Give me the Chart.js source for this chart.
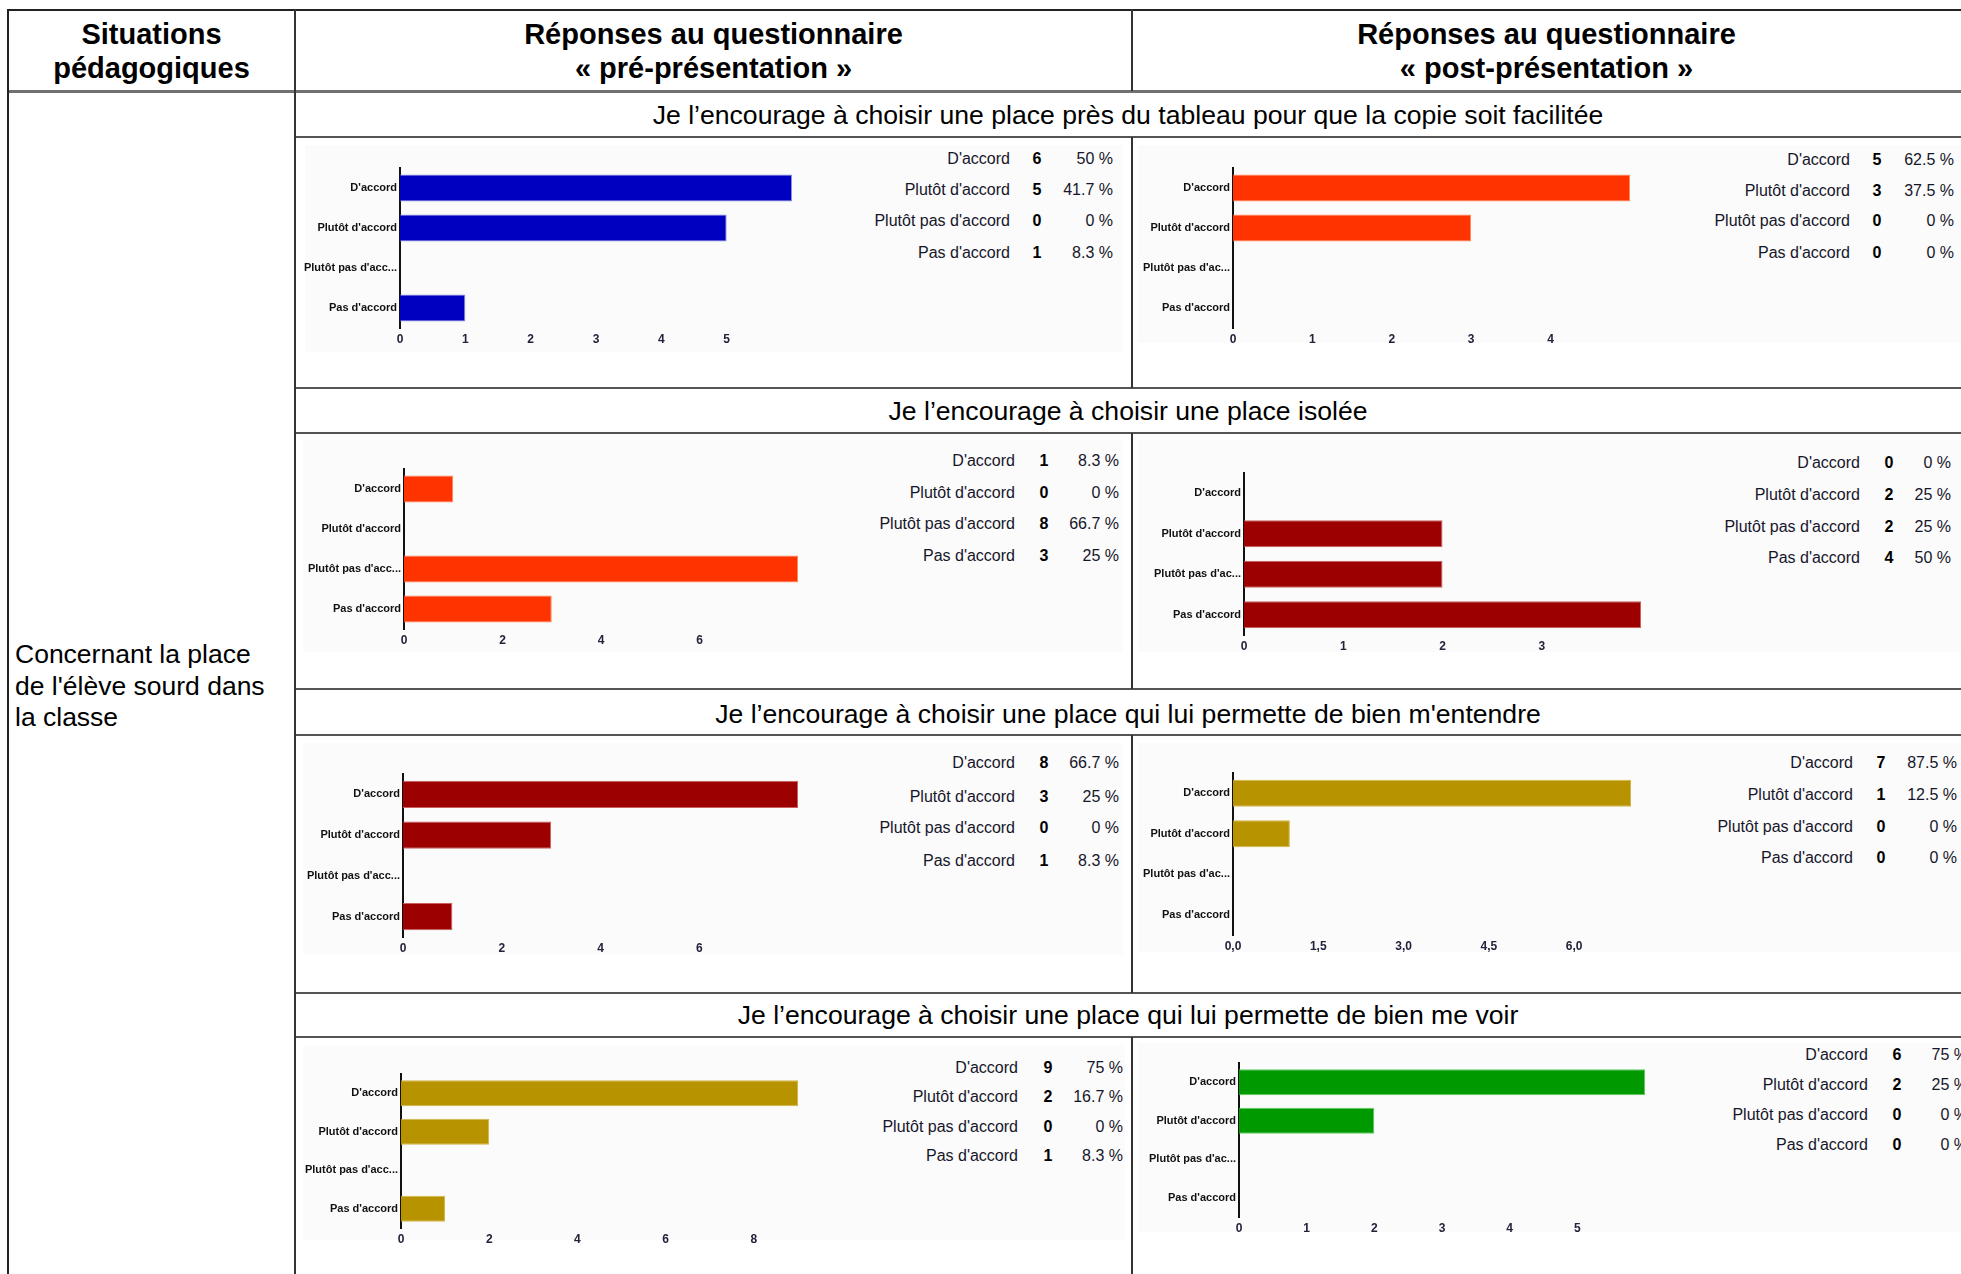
<!DOCTYPE html>
<html><head><meta charset="utf-8">
<script src="https://cdn.jsdelivr.net/npm/chart.js@4"></script>
<style>
html,body{margin:0;padding:0}
body{width:1961px;height:1274px;overflow:hidden;background:#fff;position:relative;font-family:"Liberation Sans",Arial,sans-serif;color:#000}
.a{position:absolute;white-space:nowrap}
.ln{position:absolute}
.hd{font-size:29px;font-weight:bold;line-height:34px;text-align:center}
.ttl{font-size:26.6px;line-height:30px;text-align:center}
.lg{font-size:16px;line-height:20px;color:#16162a}
.cnt{font-weight:bold;color:#000}
</style></head><body>
<script>
// ---------- DATA ----------
const categories = ["D'accord", "Plutôt d'accord", "Plutôt pas d'accord", "Pas d'accord"];
const axisLabelsPre = ["D'accord", "Plutôt d'accord", "Plutôt pas d'acc...", "Pas d'accord"];
const axisLabelsPost = ["D'accord", "Plutôt d'accord", "Plutôt pas d'ac...", "Pas d'accord"];
const questions = [
  "Je l’encourage à choisir une place près du tableau pour que la copie soit facilitée",
  "Je l’encourage à choisir une place isolée",
  "Je l’encourage à choisir une place qui lui permette de bien m'entendre",
  "Je l’encourage à choisir une place qui lui permette de bien me voir"
];
const situation = ["Concernant la place", "de l'élève sourd dans", "la classe"];
const headerSituations = ["Situations", "pédagogiques"];
const headerPre = ["Réponses au questionnaire", "« pré-présentation »"];
const headerPost = ["Réponses au questionnaire", "« post-présentation »"];

const pre1 = [6, 5, 0, 1];
const post1 = [5, 3, 0, 0];
const pre2 = [1, 0, 8, 3];
const post2 = [0, 2, 2, 4];
const pre3 = [8, 3, 0, 1];
const post3 = [7, 1, 0, 0];
const pre4 = [9, 2, 0, 1];
const post4 = [6, 2, 0, 0];

const ticksPre1 = ["0", "1", "2", "3", "4", "5"];
const ticksPost1 = ["0", "1", "2", "3", "4"];
const ticksPre2 = ["0", "2", "4", "6"];
const ticksPost2 = ["0", "1", "2", "3"];
const ticksPre3 = ["0", "2", "4", "6"];
const ticksPost3 = ["0,0", "1,5", "3,0", "4,5", "6,0"];
const ticksPre4 = ["0", "2", "4", "6", "8"];
const ticksPost4 = ["0", "1", "2", "3", "4", "5"];

// ---------- STYLE / LAYOUT ----------
const COL = {
  blue: ['#0000c0', '#8c8ce0'],
  orange: ['#ff3300', '#ff8a55'],
  darkred: ['#9c0000', '#c86060'],
  gold: ['#b89300', '#d2b548'],
  green: ['#009a00', '#5ccc5c']
};
const charts = [
  {v: pre1, t: ticksPre1, lab: axisLabelsPre, c: COL.blue, axisX: 400, maxX: 792, top: 168, bottom: 328, bg: [305,145,1123,352], lr: 1010, cc: 1037, pr: 1113, rows: [159,190,221,253]},
  {v: post1, t: ticksPost1, lab: axisLabelsPost, c: COL.orange, axisX: 1233, maxX: 1630, top: 168, bottom: 328, bg: [1138,145,1961,343], lr: 1850, cc: 1877, pr: 1954, rows: [160,191,221,253]},
  {v: pre2, t: ticksPre2, lab: axisLabelsPre, c: COL.orange, axisX: 404, maxX: 798, top: 469, bottom: 629, bg: [303,440,1123,652], lr: 1015, cc: 1044, pr: 1119, rows: [461,493,524,556]},
  {v: post2, t: ticksPost2, lab: axisLabelsPost, c: COL.darkred, axisX: 1244, maxX: 1641, top: 473, bottom: 635, bg: [1138,440,1961,652], lr: 1860, cc: 1889, pr: 1951, rows: [463,495,527,558]},
  {v: pre3, t: ticksPre3, lab: axisLabelsPre, c: COL.darkred, axisX: 403, maxX: 798, top: 774, bottom: 937, bg: [303,743,1123,955], lr: 1015, cc: 1044, pr: 1119, rows: [763,797,828,861]},
  {v: post3, t: ticksPost3, lab: axisLabelsPost, c: COL.gold, axisX: 1233, maxX: 1631, top: 773, bottom: 935, bg: [1138,743,1961,952], lr: 1853, cc: 1881, pr: 1957, rows: [763,795,827,858]},
  {v: pre4, t: ticksPre4, lab: axisLabelsPre, c: COL.gold, axisX: 401, maxX: 798, top: 1074, bottom: 1228, bg: [303,1045,1125,1240], lr: 1018, cc: 1048, pr: 1123, rows: [1068,1097,1127,1156]},
  {v: post4, t: ticksPost4, lab: axisLabelsPost, c: COL.green, axisX: 1239, maxX: 1645, top: 1063, bottom: 1217, bg: [1138,1043,1961,1232], lr: 1868, cc: 1897, pr: 1968, rows: [1055,1085,1115,1145]}
];
const W = 1961;
const body = document.body;

function el(tag, cls, css, html) {
  const d = document.createElement(tag);
  if (cls) d.className = cls;
  Object.assign(d.style, css || {});
  if (html !== undefined) d.innerHTML = html;
  body.appendChild(d);
  return d;
}
function hline(x1, x2, y, w, c) { el('div', 'ln', {left: x1 + 'px', width: (x2 - x1) + 'px', top: (y - w / 2) + 'px', height: w + 'px', background: c}); }
function vline(x, y1, y2, w, c) { el('div', 'ln', {left: (x - w / 2) + 'px', width: w + 'px', top: y1 + 'px', height: (y2 - y1) + 'px', background: c}); }

// chart backgrounds
charts.forEach(g => {
  el('div', 'ln', {left: g.bg[0] + 'px', top: g.bg[1] + 'px', width: (g.bg[2] - g.bg[0]) + 'px', height: (g.bg[3] - g.bg[1]) + 'px', background: '#fbfbfb'});
});

// table lines
hline(7, W, 10, 2, '#222');
hline(7, W, 91, 3, '#707070');
[137, 388, 433, 689, 735, 993, 1037].forEach(y => hline(295, W, y, 2, '#555'));
vline(8, 9, 1274, 2, '#222');
vline(295, 9, 1274, 1.5, '#333');
[[9, 91], [137, 388], [433, 689], [735, 993], [1037, 1274]].forEach(s => vline(1132, s[0], s[1], 1.5, '#333'));

// headers
el('div', 'a hd', {left: '8px', width: '287px', top: '17px'}, headerSituations.join('<br>'));
el('div', 'a hd', {left: '295px', width: '837px', top: '17px'}, headerPre.join('<br>'));
el('div', 'a hd', {left: '1132px', width: '829px', top: '17px'}, headerPost.join('<br>'));
[115, 411, 714, 1015].forEach((y, i) => {
  el('div', 'a ttl', {left: '295px', width: (W - 295) + 'px', top: (y - 15) + 'px'}, questions[i]);
});
el('div', 'a', {left: '15px', top: '639px', fontSize: '26.5px', lineHeight: '31.5px'}, situation.join('<br>'));

// legends
charts.forEach(g => {
  const total = g.v.reduce((a, b) => a + b, 0);
  g.v.forEach((val, i) => {
    const y = g.rows[i] - 10;
    const pct = Math.round(val / total * 1000) / 10;
    el('div', 'a lg', {right: (W - g.lr) + 'px', top: y + 'px'}, categories[i]);
    el('div', 'a lg cnt', {left: (g.cc - 20) + 'px', width: '40px', textAlign: 'center', top: y + 'px'}, String(val));
    el('div', 'a lg', {right: (W - g.pr) + 'px', top: y + 'px'}, String(pct) + ' %');
  });
});

// charts
Chart.defaults.font.family = "'Liberation Sans', Arial, sans-serif";
charts.forEach(g => {
  const yW = 130, padR = 20, padT = 10, xH = 26;
  const left = g.axisX - yW;
  const width = yW + (g.maxX - g.axisX) + padR;
  const top = g.top - padT;
  const height = padT + (g.bottom - g.top) + xH;
  const cv = document.createElement('canvas');
  cv.width = width; cv.height = height;
  Object.assign(cv.style, {position: 'absolute', left: left + 'px', top: top + 'px', width: width + 'px', height: height + 'px'});
  body.appendChild(cv);
  const tickVals = g.t.map(s => parseFloat(s.replace(',', '.')));
  new Chart(cv, {
    type: 'bar',
    data: {labels: g.lab, datasets: [{data: g.v, backgroundColor: g.c[0], borderColor: g.c[1], borderWidth: 1, borderSkipped: 'start', barPercentage: 0.67, categoryPercentage: 1}]},
    options: {
      indexAxis: 'y', responsive: false, maintainAspectRatio: false, animation: false,
      layout: {padding: {top: padT, right: padR, left: 0, bottom: 0}},
      plugins: {legend: {display: false}, tooltip: {enabled: false}},
      scales: {
        x: {
          min: 0, max: Math.max(...g.v),
          grid: {display: false, drawTicks: false}, border: {display: false},
          afterBuildTicks: s => { s.ticks = tickVals.map(v => ({value: v})); },
          ticks: {autoSkip: false, maxRotation: 0, padding: 4, font: {size: 12, weight: 'bold'}, color: '#22223a', callback: (v, i) => g.t[i]},
          afterFit: s => { s.height = xH; }
        },
        y: {
          grid: {display: false, drawTicks: false}, border: {display: true, color: '#111', width: 2},
          ticks: {autoSkip: false, padding: 3, font: {size: 11, weight: 'bold'}, color: '#111'},
          afterFit: s => { s.width = yW; }
        }
      }
    }
  });
});
</script>
</body></html>
